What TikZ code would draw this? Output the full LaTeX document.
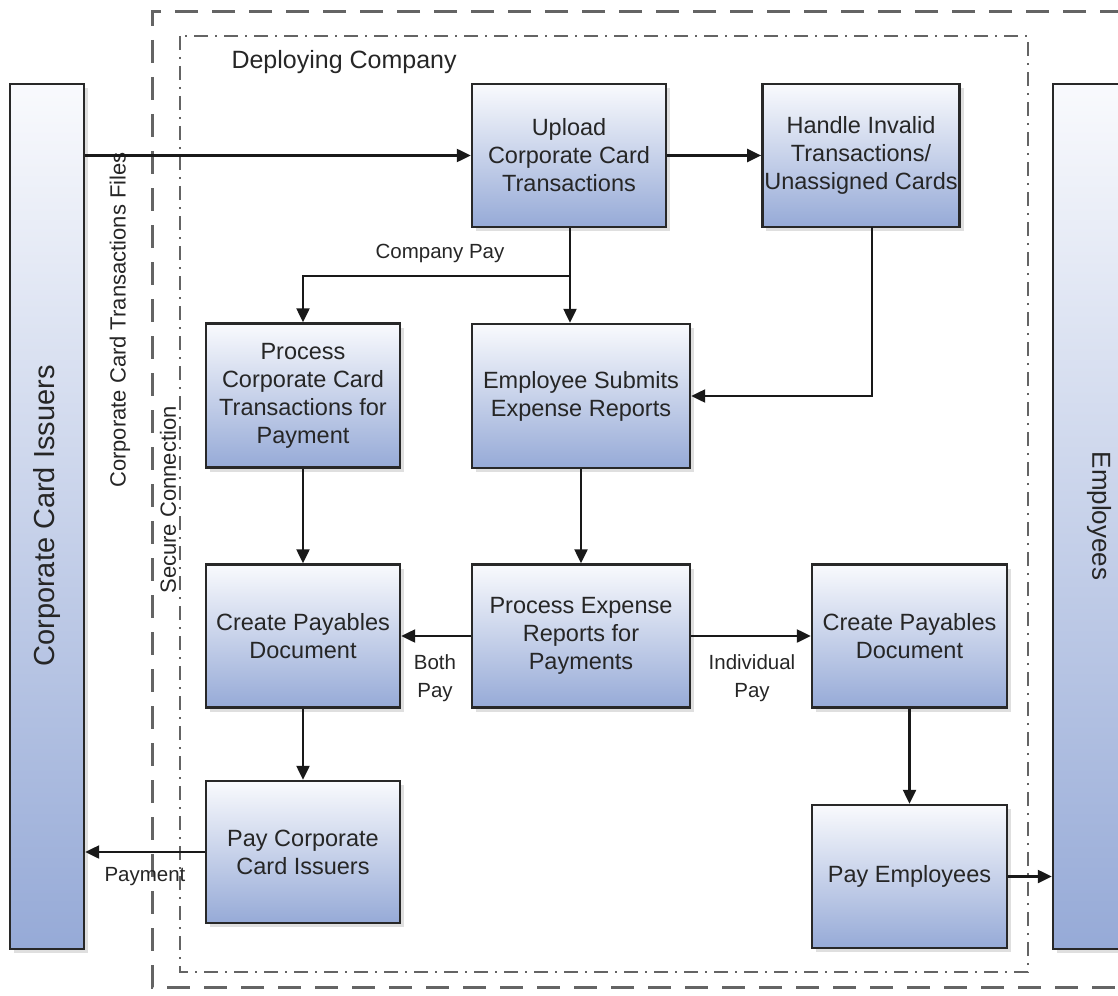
\documentclass[tikz,border=0pt]{standalone}
\usepackage{fontspec}
\setmainfont{Liberation Sans}
\usetikzlibrary{arrows.meta,shadows}
\definecolor{boxtop}{RGB}{249,250,253}
\definecolor{boxbot}{RGB}{150,170,215}
\definecolor{edge}{RGB}{40,40,40}
\definecolor{frame}{RGB}{100,100,100}
\begin{document}
\begin{tikzpicture}[x=1pt,y=-1pt,
  proc/.style={draw=edge, line width=2.4pt, top color=boxtop, bottom color=boxbot,
    drop shadow={shadow xshift=4pt, shadow yshift=-4pt, opacity=0.25},
    align=center, font=\fontsize{23.5}{28}\selectfont, text=black!85, inner sep=2pt},
  bar/.style={draw=edge, line width=2.4pt, top color=boxtop, bottom color=boxbot,
    drop shadow={shadow xshift=4pt, shadow yshift=-4pt, opacity=0.25}, text=black!85},
  arr/.style={draw=black!90, line width=2.3pt, -{Triangle[length=14pt,width=13pt]}},
  lab/.style={font=\fontsize{20.5}{28}\selectfont, align=center, text=black!85},
  vlab/.style={font=\fontsize{22}{26}\selectfont, text=black!85, rotate=90}
]
\useasboundingbox (0,0) rectangle (1118,995);
% frames
\draw[frame, line width=3pt, dash pattern=on 23pt off 14pt] (1160,12) -- (152,12) -- (152,987) -- (1160,987);
\draw[frame, line width=2.2pt, dash pattern=on 14pt off 7pt on 2pt off 7pt] (180,36) rectangle (1028,972);
\node[font=\fontsize{25}{30}\selectfont, anchor=west, text=black!85] (dc) at (228,62) {Deploying Company};
% side bars
\node[bar, minimum width=74pt, minimum height=865pt] (lb) at (47,516.5) {};
\node[font=\fontsize{29}{34}\selectfont, rotate=90, text=black!85] (lbt) at (47,516) {Corporate Card Issuers};
\node[bar, minimum width=90pt, minimum height=865pt] (rb) at (1098,516.5) {};
\node[font=\fontsize{26}{30}\selectfont, rotate=-90, text=black!85] (rbt) at (1099,516) {Employees};
% vertical labels
\node[vlab] (ctf) at (120,320) {Corporate Card Transactions Files};
\node[vlab] (sc) at (168,500) {Secure Connection};
% process boxes
\node[proc, minimum width=194pt, minimum height=143pt] (up) at (569,155.5) {Upload\\Corporate Card\\Transactions};
\node[proc, minimum width=194pt, minimum height=143pt] (hi) at (861,155.5) {Handle Invalid\\Transactions/\\Unassigned Cards};
\node[proc, minimum width=194pt, minimum height=144pt] (pcc) at (303,395.5) {Process\\Corporate Card\\Transactions for\\Payment};
\node[proc, minimum width=218pt, minimum height=144pt] (es) at (581,396) {Employee Submits\\Expense Reports};
\node[proc, minimum width=194pt, minimum height=143pt] (cpl) at (303,636) {Create Payables\\Document};
\node[proc, minimum width=218pt, minimum height=143pt] (pe) at (581,636) {Process Expense\\Reports for\\Payments};
\node[proc, minimum width=195pt, minimum height=143pt] (cpr) at (909.5,636) {Create Payables\\Document};
\node[proc, minimum width=194pt, minimum height=142pt] (pcci) at (303,852) {Pay Corporate\\Card Issuers};
\node[proc, minimum width=195pt, minimum height=143pt] (pemp) at (909.5,876.5) {Pay Employees};
% connectors
\coordinate (j) at (570,276);
\coordinate (hs) at (872,227);
\draw[arr] (lb.east |- up.west) -- (up.west);
\draw[arr] (up.east) -- (hi.west);
\draw[arr] (up.south -| j) -- (j |- es.north);
\draw[arr] (j) -| (pcc.north);
\draw[arr] (hs) |- (es.east);
\draw[arr] (pcc.south) -- (cpl.north);
\draw[arr] (es.south) -- (pe.north);
\draw[arr] (pe.west) -- (cpl.east);
\draw[arr] (pe.east) -- (cpr.west);
\draw[arr] (cpl.south) -- (pcci.north);
\draw[arr] (pcci.west) -- (pcci.west -| lb.east);
\draw[arr] (cpr.south) -- (pemp.north);
\draw[arr] (pemp.east) -- (pemp.east -| rb.west);
% labels
\node[lab] (cp) at (440,253) {Company Pay};
\node[lab] (bp) at (435,678) {Both\\Pay};
\node[lab] (ip) at (752,678) {Individual\\Pay};
\node[lab] (pm) at (145,877) {Payment};
\end{tikzpicture}
\end{document}
